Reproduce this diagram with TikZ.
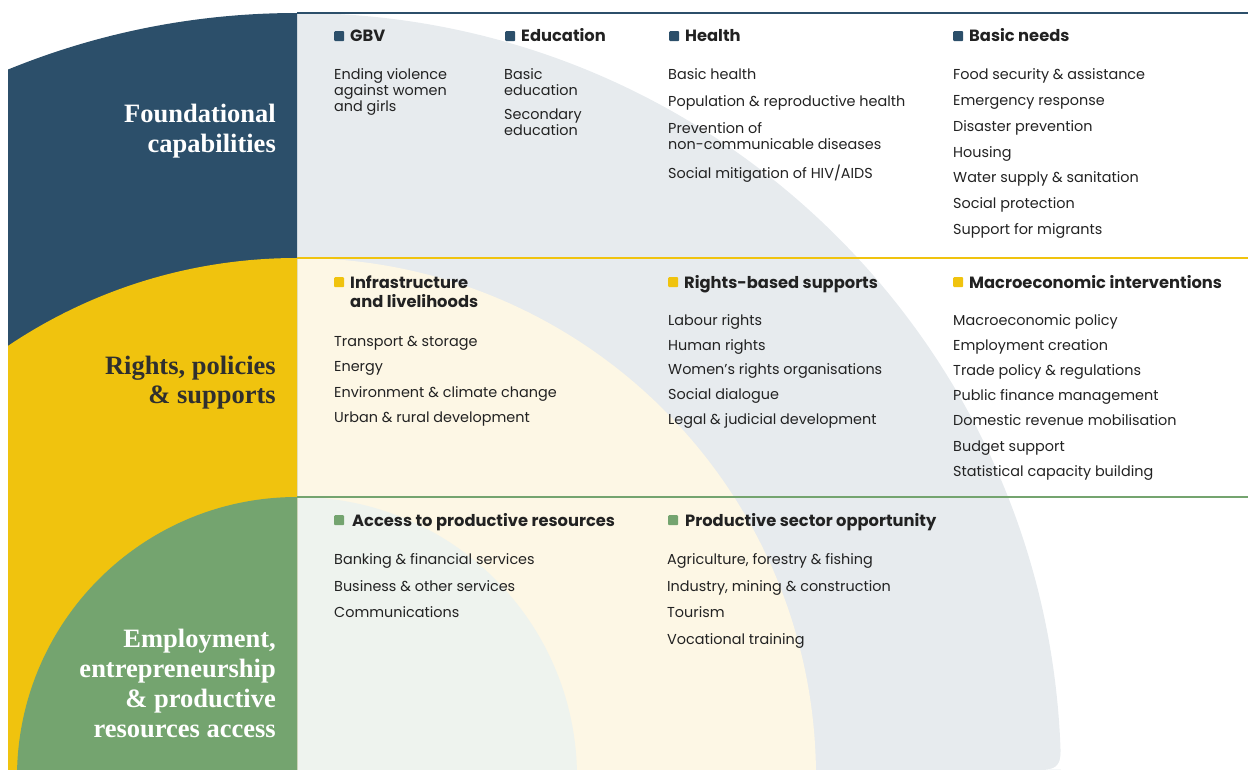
\documentclass[tikz,border=0pt]{standalone}
\usepackage{fontspec}
\newfontfamily\bodyfont{Poppins}
\newfontfamily\titlefont{Liberation Serif}
\definecolor{navy}{HTML}{2C4F6A}
\definecolor{yel}{HTML}{F0C30E}
\definecolor{grn}{HTML}{74A46F}
\definecolor{lgrey}{HTML}{E7EBEE}
\definecolor{lyel}{HTML}{FDF7E5}
\definecolor{lgrn}{HTML}{EEF3EE}
\definecolor{txt}{HTML}{222222}
\definecolor{ttldark}{HTML}{2F2F2F}
\begin{document}
\begin{tikzpicture}[x=1pt,y=-1pt,
  hdr/.style={font=\bodyfont\bfseries\fontsize{16.3}{19}\selectfont, text=txt, inner sep=0pt, anchor=base west},
  itm/.style={font=\bodyfont\fontsize{14.4}{16}\selectfont, text=txt, inner sep=0pt, anchor=base west},
  ttl/.style={font=\titlefont\bfseries\fontsize{26.5}{30}\selectfont, inner sep=0pt, anchor=base east},
  mark/.style={inner sep=0pt, minimum size=10pt, rounded corners=1pt, fill=#1}
]
\useasboundingbox (0,0) rectangle (1248,769);
% light shapes in the right panel
\begin{scope}
  \clip (297,13) rectangle (1248,769);
  \fill[lgrey] (297,777) circle[radius=764pt];
  \fill[lyel] (297,777) circle[radius=519pt];
  \fill[lgrn] (297,777) circle[radius=280pt];
\end{scope}
\fill[white] (1046,769.5) .. controls (1057,769) and (1060.6,763) .. (1060.7,752) -- (1070,752) -- (1070,769.5) -- cycle;
% left column
\begin{scope}
  \clip (8,0) rectangle (297,769);
  \fill[navy] (297,777) circle[radius=764pt];
  \fill[yel] (297,777) circle[radius=519pt];
  \fill[grn] (297,777) circle[radius=280pt];
\end{scope}
% row lines
\coordinate (l1a) at (297,13); \coordinate (l1b) at (1248,13);
\coordinate (l2a) at (297,258); \coordinate (l2b) at (1248,258);
\coordinate (l3a) at (297,497); \coordinate (l3b) at (1248,497);
\draw[navy, line width=1.5pt] (l1a) -- (l1b);
\draw[yel, line width=1.5pt] (l2a) -- (l2b);
\draw[grn, line width=1.5pt] (l3a) -- (l3b);
% titles
\node[ttl, text=white] (t1a) at (276,122) {Foundational};
\node[ttl, text=white] (t1b) at (276,152) {capabilities};
\node[ttl, text=ttldark] (t2a) at (276,374) {Rights, policies};
\node[ttl, text=ttldark] (t2b) at (276,403) {\& supports};
\node[ttl, text=white] (t3a) at (276,647) {Employment,};
\node[ttl, text=white] (t3b) at (276,677) {entrepreneurship};
\node[ttl, text=white] (t3c) at (276,707) {\& productive};
\node[ttl, text=white] (t3d) at (276,737) {resources access};
% ---- row 1
\node[mark=navy, anchor=north west] (m11) at (334,31) {};
\node[hdr] (h11) at (350,41) {GBV};
\node[mark=navy, anchor=north west] (m12) at (505,31) {};
\node[hdr] (h12) at (521,41) {Education};
\node[mark=navy, anchor=north west] (m13) at (669,31) {};
\node[hdr] (h13) at (685,41) {Health};
\node[mark=navy, anchor=north west] (m14) at (953,31) {};
\node[hdr] (h14) at (969,41) {Basic needs};
\node[itm] (g1) at (334,79) {Ending violence};
\node[itm] (g2) at (334,95) {against women};
\node[itm] (g3) at (334,111) {and girls};
\node[itm] (e1) at (504,79) {Basic};
\node[itm] (e2) at (504,95) {education};
\node[itm] (e3) at (504,119) {Secondary};
\node[itm] (e4) at (504,135) {education};
\node[itm] (hh1) at (668,79) {Basic health};
\node[itm] (hh2) at (668,106) {Population \& reproductive health};
\node[itm] (hh3) at (668,133) {Prevention of};
\node[itm] (hh4) at (668,149) {non-communicable diseases};
\node[itm] (hh5) at (668,178) {Social mitigation of HIV/AIDS};
\node[itm] (b1) at (953,79) {Food security \& assistance};
\node[itm] (b2) at (953,105) {Emergency response};
\node[itm] (b3) at (953,131) {Disaster prevention};
\node[itm] (b4) at (953,157) {Housing};
\node[itm] (b5) at (953,182) {Water supply \& sanitation};
\node[itm] (b6) at (953,208) {Social protection};
\node[itm] (b7) at (953,234) {Support for migrants};
% ---- row 2
\node[mark=yel, anchor=north west] (m21) at (334,277) {};
\node[hdr] (h21) at (350,288) {Infrastructure};
\node[hdr] (h21b) at (350,307) {and livelihoods};
\node[mark=yel, anchor=north west] (m22) at (668,277) {};
\node[hdr] (h22) at (684,288) {Rights-based supports};
\node[mark=yel, anchor=north west] (m23) at (953,277) {};
\node[hdr] (h23) at (969,288) {Macroeconomic interventions};
\node[itm] (i1) at (334,346) {Transport \& storage};
\node[itm] (i2) at (334,371) {Energy};
\node[itm] (i3) at (334,397) {Environment \& climate change};
\node[itm] (i4) at (334,422) {Urban \& rural development};
\node[itm] (r1) at (668,325) {Labour rights};
\node[itm] (r2) at (668,350) {Human rights};
\node[itm] (r3) at (668,374) {Women’s rights organisations};
\node[itm] (r4) at (668,399) {Social dialogue};
\node[itm] (r5) at (668,424) {Legal \& judicial development};
\node[itm] (q1) at (953,325) {Macroeconomic policy};
\node[itm] (q2) at (953,350) {Employment creation};
\node[itm] (q3) at (953,375) {Trade policy \& regulations};
\node[itm] (q4) at (953,400) {Public finance management};
\node[itm] (q5) at (953,425) {Domestic revenue mobilisation};
\node[itm] (q6) at (953,451) {Budget support};
\node[itm] (q7) at (953,476) {Statistical capacity building};
% ---- row 3
\node[mark=grn, anchor=north west] (m31) at (334,515) {};
\node[hdr] (h31) at (352,526) {Access to productive resources};
\node[mark=grn, anchor=north west] (m32) at (668,515) {};
\node[hdr] (h32) at (685,526) {Productive sector opportunity};
\node[itm] (a1) at (334,564) {Banking \& financial services};
\node[itm] (a2) at (334,591) {Business \& other services};
\node[itm] (a3) at (334,617) {Communications};
\node[itm] (p1) at (667,564) {Agriculture, forestry \& fishing};
\node[itm] (p2) at (667,591) {Industry, mining \& construction};
\node[itm] (p3) at (667,617) {Tourism};
\node[itm] (p4) at (667,644) {Vocational training};
\end{tikzpicture}
\end{document}
